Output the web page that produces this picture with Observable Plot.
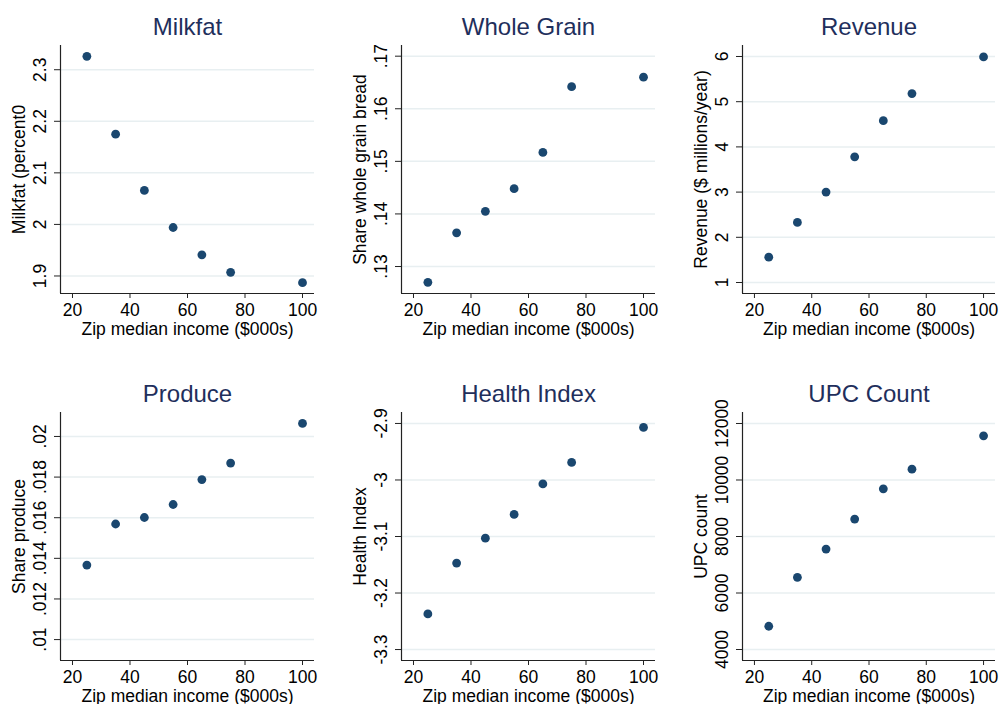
<!DOCTYPE html>
<html>
<head>
<meta charset="utf-8">
<script src="https://cdn.jsdelivr.net/npm/d3@7"></script>
<script src="https://cdn.jsdelivr.net/npm/@observablehq/plot@0.6"></script>
<style>
  html, body { margin: 0; padding: 0; background: #ffffff; }
  #chart { position: relative; width: 1001px; height: 704px; overflow: hidden; background: #ffffff; }
  .panel { position: absolute; }
</style>
</head>
<body>
<div id="chart"></div>
<script>
// ---- Data ----
const income = [25, 35, 45, 55, 65, 75, 100];

const milkfat    = [2.326, 2.175, 2.066, 1.994, 1.941, 1.907, 1.887];
const wholeGrain = [0.1270, 0.1364, 0.1405, 0.1448, 0.1517, 0.1642, 0.1660];
const revenue    = [1.56, 2.33, 3.00, 3.78, 4.58, 5.18, 5.99];
const produce    = [0.01367, 0.01569, 0.01601, 0.01665, 0.01788, 0.01869, 0.02064];
const health     = [-3.237, -3.147, -3.103, -3.061, -3.007, -2.969, -2.907];
const upcCount   = [4823, 6555, 7555, 8615, 9689, 10382, 11562];

const panelTitles = ["Milkfat", "Whole Grain", "Revenue", "Produce", "Health Index", "UPC Count"];
const yLabels = ["Milkfat (percent0", "Share whole grain bread", "Revenue ($ millions/year)",
                 "Share produce", "Health Index", "UPC count"];
const xLabel = "Zip median income ($000s)";

const xTicks = [20, 40, 60, 80, 100];

const milkfatTicks = [1.9, 2, 2.1, 2.2, 2.3];
const milkfatTickLabels = ["1.9", "2", "2.1", "2.2", "2.3"];
const wholeGrainTicks = [0.13, 0.14, 0.15, 0.16, 0.17];
const wholeGrainTickLabels = [".13", ".14", ".15", ".16", ".17"];
const revenueTicks = [1, 2, 3, 4, 5, 6];
const revenueTickLabels = ["1", "2", "3", "4", "5", "6"];
const produceTicks = [0.01, 0.012, 0.014, 0.016, 0.018, 0.02];
const produceTickLabels = [".01", ".012", ".014", ".016", ".018", ".02"];
const healthTicks = [-3.3, -3.2, -3.1, -3, -2.9];
const healthTickLabels = ["-3.3", "-3.2", "-3.1", "-3", "-2.9"];
const upcTicks = [4000, 6000, 8000, 10000, 12000];
const upcTickLabels = ["4000", "6000", "8000", "10000", "12000"];

// ---- Layout / scale config ----
const xDomain = [15.83, 104.17];
const navy = "#1a476f";
const titleColor = "#1f2f5c";
const gridColor = "#e8eff1";
const fontFamily = "'Liberation Sans', Arial, Helvetica, sans-serif";

const panels = [
  {values: milkfat, ticks: milkfatTicks, labels: milkfatTickLabels, domain: [1.866, 2.347],
   left: 0, top: 0, width: 333, m: [45, 19, 59, 60]},
  {values: wholeGrain, ticks: wholeGrainTicks, labels: wholeGrainTickLabels, domain: [0.12487, 0.17203],
   left: 333, top: 0, width: 333, m: [45, 11, 59, 68]},
  {values: revenue, ticks: revenueTicks, labels: revenueTickLabels, domain: [0.757, 6.243],
   left: 666, top: 0, width: 335, m: [45, 6, 59, 76]},
  {values: produce, ticks: produceTicks, labels: produceTickLabels, domain: [0.00897, 0.02118],
   left: 0, top: 352, width: 333, m: [60, 19, 44, 60]},
  {values: health, ticks: healthTicks, labels: healthTickLabels, domain: [-3.3194, -2.8806],
   left: 333, top: 352, width: 333, m: [60, 11, 44, 68]},
  {values: upcCount, ticks: upcTicks, labels: upcTickLabels, domain: [3611, 12389],
   left: 666, top: 352, width: 335, m: [60, 6, 44, 76]}
];

const chart = document.getElementById("chart");

panels.forEach((p, k) => {
  const data = income.map((x, i) => ({x, y: p.values[i]}));
  const labelMap = new Map(p.ticks.map((t, i) => [t, p.labels[i]]));
  const svg = Plot.plot({
    width: p.width,
    height: 352,
    marginTop: p.m[0],
    marginRight: p.m[1],
    marginBottom: p.m[2],
    marginLeft: p.m[3],
    style: {fontFamily, fontSize: "17.5px", color: "#000", background: "transparent", overflow: "visible"},
    x: {domain: xDomain},
    y: {domain: p.domain},
    marks: [
      Plot.gridY(p.ticks, {stroke: gridColor, strokeOpacity: 1, strokeWidth: 1.5}),
      Plot.axisX(xTicks, {
        tickSize: 5, tickPadding: 5, fontSize: 17.5, stroke: "#222",
        label: xLabel, labelAnchor: "center", labelOffset: 41, labelArrow: "none"
      }),
      Plot.axisY(p.ticks, {
        tickSize: 6, tickPadding: 9, tickRotate: -90, fontSize: 17.5, stroke: "#222",
        tickFormat: d => labelMap.get(d),
        label: yLabels[k], labelAnchor: "center", labelOffset: 48, labelArrow: "none"
      }),
      Plot.ruleX([xDomain[0]], {stroke: "#222", strokeWidth: 1.2}),
      Plot.ruleY([p.domain[0]], {stroke: "#222", strokeWidth: 1.2}),
      Plot.dot(data, {x: "x", y: "y", r: 4.4, fill: navy, stroke: "none"}),
      Plot.text([panelTitles[k]], {
        text: d => d, frameAnchor: "top", dy: -10.5, lineAnchor: "bottom",
        fontSize: 24, fill: titleColor
      })
    ]
  });
  const div = document.createElement("div");
  div.className = "panel";
  div.style.left = p.left + "px";
  div.style.top = p.top + "px";
  div.appendChild(svg);
  chart.appendChild(div);
});
</script>
</body>
</html>
